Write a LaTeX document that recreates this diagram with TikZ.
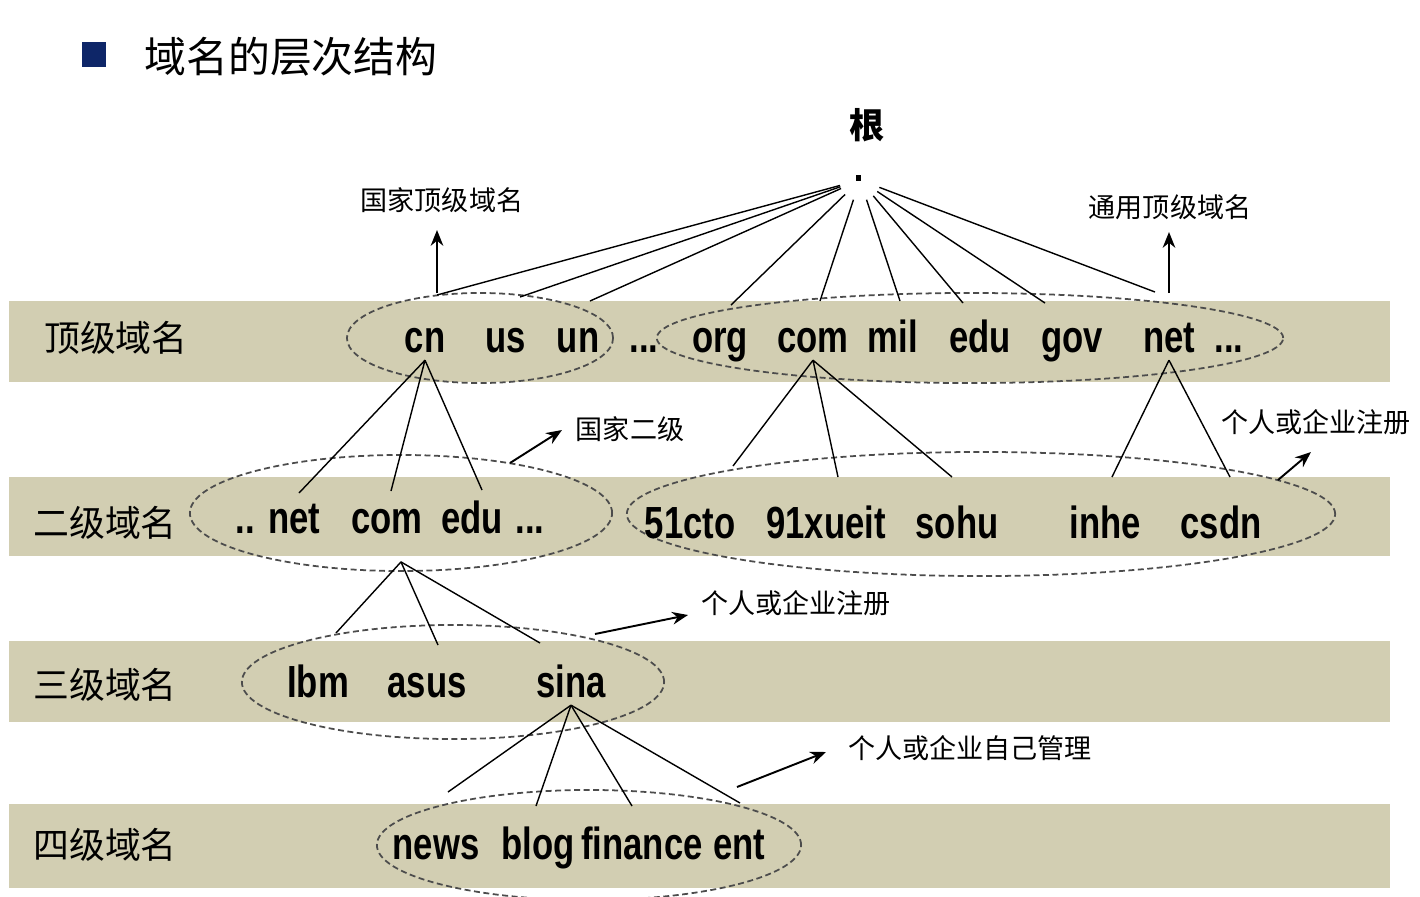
\documentclass[tikz,border=0pt]{standalone}
\usepackage{fontspec}
\setmainfont{Liberation Sans}
\newfontfamily\cjk{Noto Sans CJK SC}
\newfontfamily\dom[FakeStretch=0.77]{Liberation Sans}
\usetikzlibrary{arrows.meta,shapes.geometric}
\definecolor{band}{RGB}{210,206,178}
\definecolor{navy}{RGB}{14,38,104}
\tikzset{
	ring/.style = {ellipse, draw=black!70, dash pattern=on 1.7pt off 1pt, line width=0.5pt, inner sep=0pt},
	word/.style = {anchor=base, inner sep=2pt, font=\dom\bfseries\fontsize{12.8}{15}\selectfont},
	level/.style = {font=\cjk\fontsize{10.2}{12}\selectfont},
	note/.style = {font=\cjk\fontsize{7.7}{9}\selectfont},
	link/.style = {line width=0.4pt},
	tag/.style = {-{Stealth[length=4.5pt,width=3.6pt]}, line width=0.55pt}
}

\begin{document}
\begin{tikzpicture}[x=0.01cm, y=-0.01cm]
	\useasboundingbox (0,0) rectangle (1420,896);
	\fill[navy] (82,42) rectangle (106,67);
	\node[font=\cjk\fontsize{11.9}{14}\selectfont] (title) at (291,57) {域名的层次结构};

	\fill[band] (9,301) rectangle (1390,382);
	\fill[band] (9,477) rectangle (1390,556);
	\fill[band] (9,641) rectangle (1390,722);
	\fill[band] (9,804) rectangle (1390,888);

	\node[level] (lv1) at (116,338) {顶级域名};
	\node[level] (lv2) at (105,523) {二级域名};
	\node[level] (lv3) at (105,685) {三级域名};
	\node[level] (lv4) at (105,845) {四级域名};

	\node[ring, minimum width=2.66cm, minimum height=0.90cm] (g1) at (480,338) {};
	\node[ring, minimum width=6.26cm, minimum height=0.90cm] (g2) at (970,338) {};
	\node[ring, minimum width=4.22cm, minimum height=1.16cm] (g3) at (401,513) {};
	\node[ring, minimum width=7.08cm, minimum height=1.24cm] (g4) at (981,514) {};
	\node[ring, minimum width=4.22cm, minimum height=1.14cm] (g5) at (453,682) {};
	\node[ring, minimum width=4.24cm, minimum height=1.10cm] (g6) at (589,845) {};

	\node[font=\cjk\bfseries\fontsize{10}{12}\selectfont] (gen) at (867,125) {根};
	\node[fill, minimum width=0.05cm, minimum height=0.06cm, inner sep=0pt] (dot) at (858,178) {};
	\node[circle, minimum size=0.40cm, inner sep=0pt] (root) at (860,180) {};

	\node[word] (cn) at (425,352) {cn};
	\node[word] (us) at (506,352) {us};
	\node[word] (un) at (578,352) {un};
	\node[word] (gap) at (644,352) {...};
	\node[word] (org) at (720,352) {org};
	\node[word] (com) at (813,352) {com};
	\node[word] (mil) at (893,352) {mil};
	\node[word] (edu) at (980,352) {edu};
	\node[word] (gov) at (1072,352) {gov};
	\node[word] (net) at (1169,352) {net};
	\node[word] (more) at (1229,352) {...};

	\node[word] (cnnet) at (278,533) {.. net};
	\node[word] (cncom) at (387,533) {com};
	\node[word] (cnedu) at (472,533) {edu};
	\node[word] (cnmore) at (530,533) {...};
	\node[word] (cto) at (690,538) {51cto};
	\node[word] (xueit) at (826,538) {91xueit};
	\node[word] (sohu) at (957,538) {sohu};
	\node[word] (inhe) at (1105,538) {inhe};
	\node[word] (csdn) at (1221,538) {csdn};

	\node[word] (ibm) at (318,697) {Ibm};
	\node[word] (asus) at (427,697) {asus};
	\node[word] (sina) at (571,697) {sina};

	\node[word] (news) at (436,859) {news};
	\node[word] (blog) at (538,859) {blog};
	\node[word] (fin) at (642,859) {finance};
	\node[word] (ent) at (739,859) {ent};

	\foreach \n/\p in {t1/{437,295}, t2/{520,297}, t3/{590,301}, t4/{731,305}, t5/{820,301},
		t6/{900,301}, t7/{963,303}, t8/{1045,303}, t9/{1155,292}}
		\coordinate (\n) at (\p);
	\foreach \n in {t1,t2,t3,t4,t5,t6,t7,t8,t9}
		\draw[link] (root) -- (\n);

	\coordinate (s1) at (299,493);
	\coordinate (s2) at (391,491);
	\coordinate (s3) at (482,490);
	\coordinate (s4) at (733,466);
	\coordinate (s5) at (838,477);
	\coordinate (s6) at (952,477);
	\coordinate (s7) at (1112,477);
	\coordinate (s8) at (1230,477);
	\draw[link] (cn.south) -- (s1) (cn.south) -- (s2) (cn.south) -- (s3);
	\draw[link] (com.south) -- (s4) (com.south) -- (s5) (com.south) -- (s6);
	\draw[link] (net.south) -- (s7) (net.south) -- (s8);

	\coordinate (r1) at (336,633);
	\coordinate (r2) at (438,645);
	\coordinate (r3) at (540,643);
	\foreach \n in {r1,r2,r3}
		\draw[link] ([yshift=0.1cm]g3.south) -- (\n);

	\coordinate (q1) at (448,792);
	\coordinate (q2) at (536,806);
	\coordinate (q3) at (632,806);
	\coordinate (q4) at (740,803);
	\foreach \n in {q1,q2,q3,q4}
		\draw[link] (sina.south) -- (\n);

	\node[note] (n1) at (442,200) {国家顶级域名};
	\node[note] (n2) at (1170,207) {通用顶级域名};
	\node[note] (n3) at (630,429) {国家二级};
	\node[note] (n4) at (1316,422) {个人或企业注册};
	\node[note] (n5) at (796,603) {个人或企业注册};
	\node[note] (n6) at (970,748) {个人或企业自己管理};

	\coordinate (a1) at (437,293); \coordinate (b1) at (437,230);
	\coordinate (a2) at (1169,293); \coordinate (b2) at (1169,232);
	\coordinate (a3) at (510,463); \coordinate (b3) at (562,430);
	\coordinate (a4) at (1278,480); \coordinate (b4) at (1311,452);
	\coordinate (a5) at (595,634); \coordinate (b5) at (688,615);
	\coordinate (a6) at (737,787); \coordinate (b6) at (826,752);
	\foreach \i in {1,...,6}
		\draw[tag] (a\i) -- (b\i);
\end{tikzpicture}
\end{document}
